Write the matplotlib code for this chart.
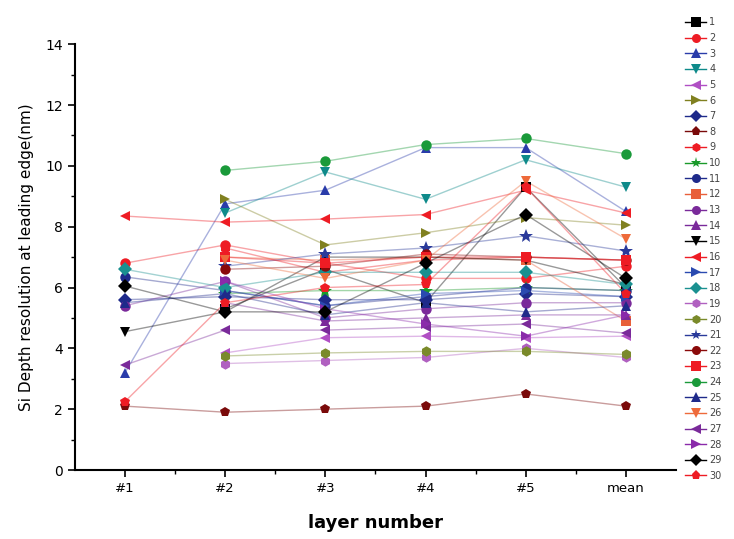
import matplotlib
matplotlib.use('Agg')
import matplotlib.pyplot as plt
from matplotlib.ticker import MultipleLocator, FixedLocator
import numpy as np

nan = np.nan
layers = ['#1', '#2', '#3', '#4', '#5', 'mean']

# values per sample (series 1..30), NaN = not measured
s1 = [nan, 5.3, 6.6, 5.5, 9.3, 6.0]
s2 = [6.8, 7.4, 6.8, 6.3, 6.3, 6.7]
s3 = [3.2, 8.75, 9.2, 10.6, 10.6, 8.5]
s4 = [nan, 8.45, 9.8, 8.9, 10.2, 9.3]
s5 = [nan, 3.85, 4.35, 4.4, 4.35, 4.4]
s6 = [nan, 8.9, 7.4, 7.8, 8.3, 8.05]
s7 = [5.6, 5.7, 5.6, 5.6, 5.8, 5.7]
s8 = [2.1, 1.9, 2.0, 2.1, 2.5, 2.1]
s9 = [nan, 7.3, 6.5, 6.9, 7.0, 6.9]
s10 = [nan, 5.8, 5.9, 5.9, 6.0, 5.9]
s11 = [6.35, 5.9, 5.4, 5.7, 6.0, 5.9]
s12 = [nan, 7.0, 6.9, 7.0, 6.9, 4.9]
s13 = [5.4, 6.2, 5.0, 5.3, 5.5, 5.5]
s14 = [nan, 5.5, 4.9, 5.0, 5.1, 5.1]
s15 = [4.55, 5.2, 7.0, 7.0, 6.9, 6.1]
s16 = [8.35, 8.15, 8.25, 8.4, 9.2, 8.45]
s17 = [nan, 5.9, 5.4, 5.8, 5.9, 5.7]
s18 = [6.6, 6.0, 6.5, 6.5, 6.5, 6.1]
s19 = [nan, 3.5, 3.6, 3.7, 4.0, 3.7]
s20 = [nan, 3.75, 3.85, 3.9, 3.9, 3.8]
s21 = [nan, 6.7, 7.1, 7.3, 7.7, 7.2]
s22 = [nan, 6.6, 6.7, 7.1, 7.0, 6.9]
s23 = [nan, 7.0, 6.8, 7.0, 7.0, 6.9]
s24 = [nan, 9.85, 10.15, 10.7, 10.9, 10.4]
s25 = [5.5, 5.8, 5.1, 5.5, 5.2, 5.4]
s26 = [nan, 6.9, 6.3, 6.9, 9.5, 7.6]
s27 = [3.45, 4.6, 4.6, 4.7, 4.8, 4.5]
s28 = [nan, 6.2, 5.3, 4.8, 4.4, 5.1]
s29 = [6.05, 5.2, 5.2, 6.8, 8.4, 6.3]
s30 = [2.25, 5.5, 6.0, 6.1, 9.3, 5.8]

series = [s1, s2, s3, s4, s5, s6, s7, s8, s9, s10, s11, s12, s13, s14, s15,
          s16, s17, s18, s19, s20, s21, s22, s23, s24, s25, s26, s27, s28, s29, s30]

# marker style and colour for each series (Origin default-like)
styles = [
    ('s', 'black'), ('o', '#ee1c24'), ('^', '#2a3caa'), ('v', '#0e8a8a'),
    ('<', '#b04fc4'), ('>', '#808020'), ('D', '#1e2a8a'), ('p', '#7a0a0a'),
    ('h', '#ee1c24'), ('*', '#1a9a2a'), ('o', '#1e2a8a'), ('s', '#e8603a'),
    ('o', '#7a2a9a'), ('^', '#7a2a9a'), ('v', 'black'), ('<', '#ee1c24'),
    ('>', '#2a4ab0'), ('D', '#1a9090'), ('h', '#b060c0'), ('h', '#7a8a2a'),
    ('*', '#2a3a9a'), ('o', '#8a0a0a'), ('s', '#ee1c24'), ('o', '#1a9a3a'),
    ('^', '#1e2a8a'), ('v', '#ee6a3a'), ('<', '#7a2a9a'), ('>', '#8a2aaa'),
    ('D', 'black'), ('p', '#ee1c24'),
]

fig = plt.figure(figsize=(7.34, 5.39), dpi=100)
ax = fig.add_axes([0.102, 0.128, 0.819, 0.790])

x = np.arange(1, len(layers) + 1)
handles = []
for i, (vals, (mk, col)) in enumerate(zip(series, styles)):
    v = np.array(vals, dtype=float)
    ok = ~np.isnan(v)
    ax.plot(x[ok], v[ok], '-', color=col, alpha=0.4, lw=1.0, zorder=2)
    ms = 10 if mk == '*' else 7.5
    ax.plot(x[ok], v[ok], linestyle='none', marker=mk, color=col, ms=ms,
            markeredgewidth=0, zorder=3)
    h, = plt.plot([], [], '-', color=col, lw=1.0, marker=mk,
                  ms=8 if mk == '*' else 6.5, markeredgewidth=0, label=str(i + 1))
    handles.append(h)

ax.set_xlim(0.5, 6.5)
ax.set_ylim(0, 14)
ax.set_xticks(x)
ax.set_xticklabels(layers, fontsize=9.5)
ax.xaxis.set_minor_locator(FixedLocator(np.arange(1.5, 6.5, 1)))
ax.yaxis.set_major_locator(MultipleLocator(2))
ax.yaxis.set_minor_locator(MultipleLocator(1))
ax.tick_params(axis='y', labelsize=10, length=5, width=1.2)
ax.tick_params(axis='x', length=5, width=1.2)
ax.tick_params(which='minor', length=3, width=1.0)
for s in ['top', 'right']:
    ax.spines[s].set_visible(False)
for s in ['left', 'bottom']:
    ax.spines[s].set_linewidth(1.5)

ax.set_xlabel('layer number', fontsize=13, fontweight='bold', labelpad=14)
ax.set_ylabel('Si Depth resolution at leading edge(nm)', fontsize=11, labelpad=8)

leg = fig.legend(handles=handles, loc='upper left', bbox_to_anchor=(0.928, 0.975),
                 frameon=False, fontsize=7, handlelength=2.2, handletextpad=0.3,
                 labelspacing=0.58, borderaxespad=0)
for t in leg.get_texts():
    t.set_color('#444444')

fig.savefig('out.png', dpi=100)
